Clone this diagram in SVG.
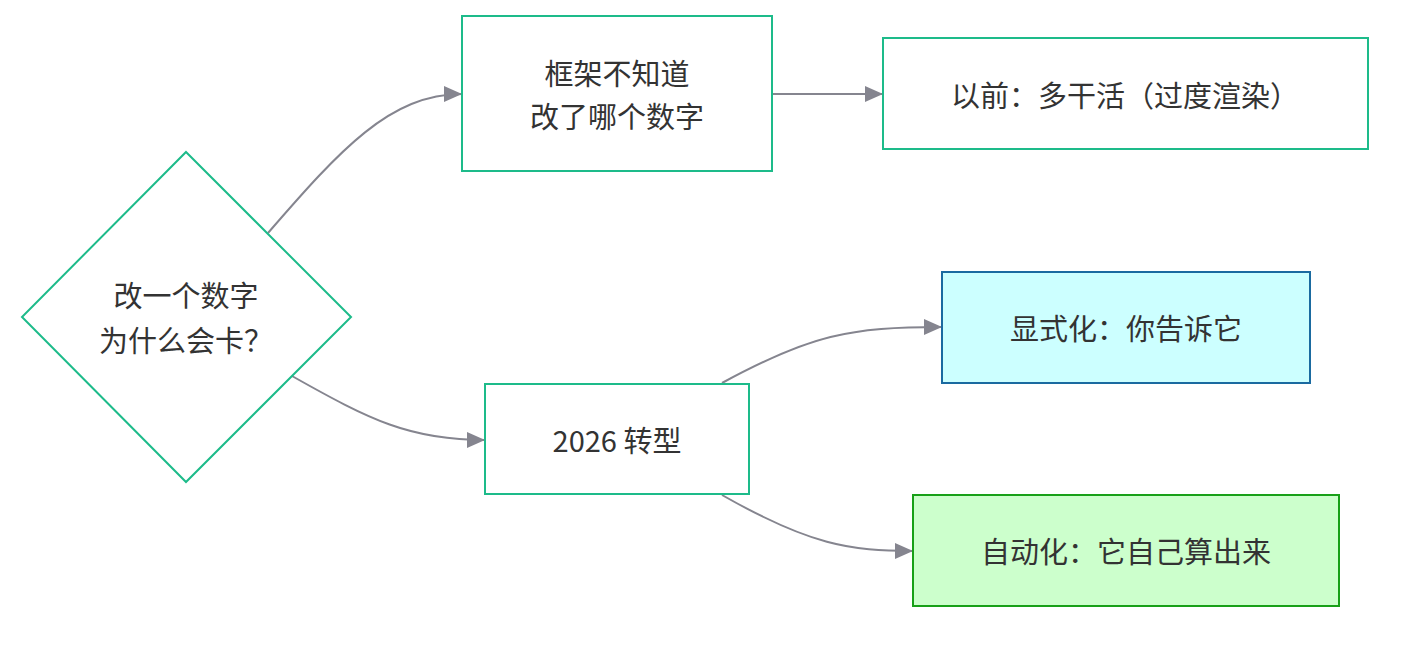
<svg xmlns="http://www.w3.org/2000/svg" width="1407" height="646" viewBox="0 0 1407 646">
<defs>
<style>
.node{fill:#fff;stroke:#1dbb8a;stroke-width:2}
.lbl{font-family:"Noto Sans CJK SC","Noto Sans",sans-serif;font-size:29px;fill:#333;text-anchor:middle}
.edge{fill:none;stroke:#85858f;stroke-width:2}
</style>
<marker id="arrow" viewBox="0 0 18 16" refX="18" refY="8" markerWidth="18" markerHeight="16" markerUnits="userSpaceOnUse" orient="auto">
<path d="M0,0 L18,8 L0,16 Z" fill="#85858f"/>
</marker>
</defs>
<rect width="1407" height="646" fill="#fff"/>
<g id="connectors">
<path class="edge" d="M268,233 C340,150 390,94 462,94" marker-end="url(#arrow)"/>
<path class="edge" d="M772,94 L883,94" marker-end="url(#arrow)"/>
<path class="edge" d="M292,376 C370,420 410,440 485,440" marker-end="url(#arrow)"/>
<path class="edge" d="M722,383 C810,335 850,327 942,327" marker-end="url(#arrow)"/>
<path class="edge" d="M722,495 C810,545 850,551 913,551" marker-end="url(#arrow)"/>
</g>
<g id="n-question">
<polygon class="node" points="186,152 351,317 186,482 22,317"/>
<text class="lbl" x="186" y="307">改一个数字</text>
<text class="lbl" x="186" y="352">为什么会卡？</text>
</g>
<g id="n-framework">
<rect class="node" x="462" y="16" width="310" height="155"/>
<text class="lbl" x="617" y="85">框架不知道</text>
<text class="lbl" x="617" y="128">改了哪个数字</text>
</g>
<g id="n-before">
<rect class="node" x="883" y="38" width="485" height="111"/>
<text class="lbl" x="1125" y="107">以前：多干活（过度渲染）</text>
</g>
<g id="n-2026">
<rect class="node" x="485" y="384" width="264" height="110"/>
<text class="lbl" x="617" y="452">2026 转型</text>
</g>
<g id="n-explicit">
<rect x="942" y="272" width="368" height="111" fill="#ccffff" stroke="#1a6aa0" stroke-width="2"/>
<text class="lbl" x="1126" y="340">显式化：你告诉它</text>
</g>
<g id="n-auto">
<rect x="913" y="495" width="426" height="111" fill="#ccffcc" stroke="#18a018" stroke-width="2"/>
<text class="lbl" x="1126" y="563">自动化：它自己算出来</text>
</g>
</svg>
